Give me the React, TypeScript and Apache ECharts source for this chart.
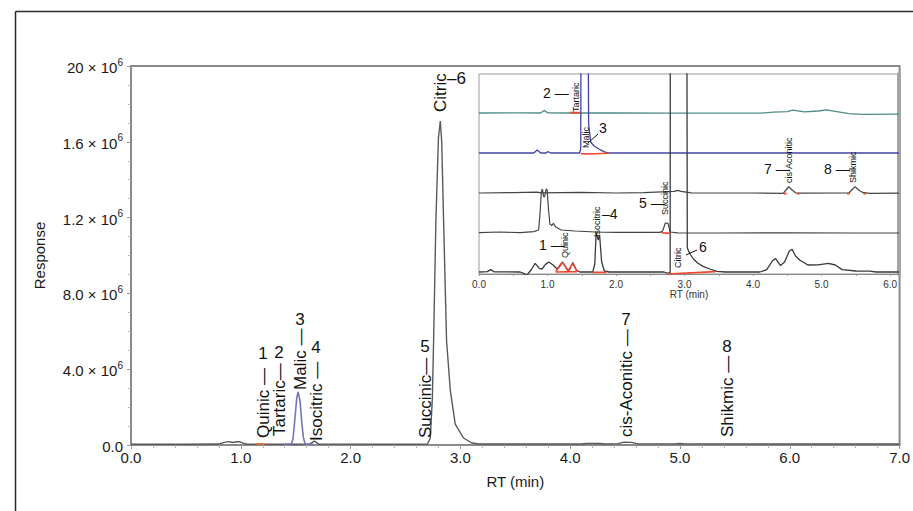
import React, { useEffect, useRef } from 'react';
import * as echarts from 'echarts';

const FONT = '"Liberation Sans", Arial, Helvetica, sans-serif';

// ---------- main chromatogram ----------
const yTickValues = [0, 4, 8, 12, 16, 20];
const yTickBase = ['0.0', '4.0 × 10', '8.0 × 10', '1.2 × 10', '1.6 × 10', '20 × 10'];
const yTickExp = ['', '6', '6', '6', '6', '6'];

const mainRT = [0, 0.5, 0.8, 0.85, 0.89, 0.93, 0.96, 0.99, 1.02, 1.06, 1.5, 1.63, 1.67, 1.71, 2.6, 2.7, 2.726, 2.745, 2.756, 2.777, 2.8, 2.817, 2.83, 2.847, 2.874, 2.908, 2.953, 3.028, 3.1, 3.164, 4.1, 4.15, 4.27, 4.32, 4.44, 4.49, 4.56, 4.62, 4.95, 5.0, 5.05, 7.0];
const mainResp = [0.04, 0.04, 0.05, 0.14, 0.18, 0.13, 0.17, 0.18, 0.1, 0.04, 0.04, 0.06, 0.2, 0.05, 0.04, 0.05, 0.37, 2.5, 5.5, 11.85, 16.2, 17.1, 16.0, 11.85, 5.5, 2.9, 1.1, 0.37, 0.12, 0.05, 0.05, 0.08, 0.08, 0.05, 0.07, 0.15, 0.14, 0.06, 0.06, 0.08, 0.06, 0.05];

const malicRT = [1.4, 1.46, 1.475, 1.49, 1.51, 1.522, 1.54, 1.555, 1.57, 1.585, 1.6, 1.66];
const malicResp = [0.04, 0.05, 0.3, 1.2, 2.5, 2.8, 2.3, 1.2, 0.4, 0.08, 0.04, 0.04];

const mainMarkRT = [1.14, 1.22];
const mainMarkResp = [0.05, 0.05];

// ---------- inset (stacked traces, offset units 0-100) ----------
const tealRT = [0, 0.6, 0.9, 0.95, 1.0, 1.3, 2.0, 2.8, 3.5, 4.1, 4.3, 4.5, 4.58, 4.75, 4.95, 5.07, 5.2, 5.4, 5.6, 6.13];
const tealY = [80.5, 80.6, 80.5, 81.8, 80.6, 80.5, 80.5, 80.4, 80.4, 80.4, 80.9, 81.2, 81.9, 81.1, 81.5, 82.1, 81.3, 80.2, 79.8, 79.9];

const blueRT = [0, 0.8, 0.85, 0.9, 0.98, 1.0, 1.05, 1.47, 1.485, 1.49, 1.59, 1.6, 1.63, 1.68, 1.75, 1.82, 1.89, 2.5, 3.5, 6.13];
const blueY = [60.5, 60.5, 62, 60.5, 60.5, 61.2, 60.5, 60.5, 63, 140, 140, 75, 66, 64, 62.5, 61.2, 60.5, 60.5, 60.5, 60.5];

const traceCRT = [0, 0.5, 0.85, 0.9, 1.5, 2.0, 2.4, 2.85, 2.9, 2.95, 3.1, 4.0, 4.44, 4.48, 4.52, 4.57, 4.62, 4.7, 5.4, 5.44, 5.49, 5.54, 5.6, 5.7, 6.13];
const traceCY = [40.5, 40.7, 40.9, 40.6, 40.8, 40.5, 40.7, 41.3, 41.8, 41.3, 40.6, 40.5, 40.3, 42, 43.7, 42, 40.6, 40.4, 40.5, 42, 43.7, 42, 40.8, 40.3, 40.4];

const traceDRT = [0, 0.3, 0.6, 0.8, 0.87, 0.89, 0.91, 0.925, 0.945, 0.96, 0.98, 0.995, 1.015, 1.035, 1.06, 1.085, 1.12, 1.2, 1.4, 1.7, 2.0, 2.64, 2.68, 2.72, 2.76, 2.79, 2.9, 3.5, 4.5, 5.5, 6.13];
const traceDY = [20.7, 21, 20.7, 21.2, 22, 30, 41, 42.5, 38.5, 39, 42.5, 42, 32, 25, 24.2, 25.3, 23.5, 22, 21.5, 21, 20.8, 20.8, 21.5, 25.5, 25.3, 21, 20.6, 20.5, 20.6, 20.5, 20.5];

const traceERT = [0, 0.12, 0.17, 0.22, 0.6, 0.66, 0.7, 0.76, 0.82, 0.88, 0.92, 0.97, 1.02, 1.08, 1.14, 1.22, 1.29, 1.32, 1.37, 1.42, 1.47, 1.66, 1.69, 1.71, 1.74, 1.76, 1.79, 1.83, 1.9, 2.7, 2.76, 2.79, 2.795, 3.025, 3.04, 3.08, 3.13, 3.19, 3.27, 3.37, 3.47, 3.6, 4.1, 4.2, 4.28, 4.33, 4.4, 4.46, 4.53, 4.57, 4.62, 4.68, 4.8, 4.95, 5.1, 5.2, 5.3, 5.5, 5.7, 5.8, 6.13];
const traceEY = [1, 1.2, 2.2, 1.1, 1, 0.2, -0.5, 2, 5.3, 2.8, 2.5, 4.8, 6, 4.5, 2.5, 6, 2.2, 2, 5.7, 2, 1, 1, 5, 20.7, 17, 19.5, 6, 1.5, 1, 1, 0.3, 0.8, 300, 300, 13, 10, 7.5, 5.5, 3.8, 2.5, 1.3, 1, 1, 2.2, 6.5, 7.7, 4.2, 6, 11.5, 12.3, 9, 7, 4.5, 4.6, 5.3, 4.5, 2.2, 1.5, 1.4, 1.0, 1.0];

// red integration marks in the inset: [rt[], y[]]
const insetMarks: [number[], number[]][] = [
  [[1.33, 1.47], [80.7, 80.7]],
  [[1.49, 1.6, 1.89], [60.2, 60.0, 60.4]],
  [[4.45, 4.49], [40.2, 40.2]],
  [[4.64, 4.68], [40.2, 40.2]],
  [[5.37, 5.41], [40.2, 40.2]],
  [[5.61, 5.65], [40.2, 40.2]],
  [[2.66, 2.79], [20.6, 20.3]],
  [[1.66, 1.86], [0.8, 0.8]],
  [[1.12, 1.22, 1.3, 1.37, 1.43, 1.12], [1.2, 5.8, 1.5, 5.3, 1.2, 1.0]],
  [[2.74, 3.45], [0.0, 1.2]],
];

const pairs = (xs: number[], ys: number[]) => xs.map((x, i) => [x, ys[i]]);

const lineSeries = (xs: number[], ys: number[], color: string, width: number, axis: number, z = 3) => ({
  type: 'line',
  data: pairs(xs, ys),
  xAxisIndex: axis,
  yAxisIndex: axis,
  symbol: 'none',
  showSymbol: false,
  silent: true,
  clip: true,
  lineStyle: { color, width },
  z,
});

// ---------- annotation helpers ----------
const vText = (text: string, x: number, bottom: number, size: number) => ({
  type: 'text',
  x,
  y: bottom,
  rotation: Math.PI / 2,
  style: { text, fontSize: size, fontFamily: FONT, fill: '#111', align: 'left', verticalAlign: 'middle' },
  z: 10,
});
const hText = (text: string, x: number, y: number, size: number, align = 'center') => ({
  type: 'text',
  x,
  y,
  style: { text, fontSize: size, fontFamily: FONT, fill: '#111', align, verticalAlign: 'middle' },
  z: 10,
});
const seg = (x1: number, y1: number, x2: number, y2: number, color = '#111', w = 1) => ({
  type: 'line',
  shape: { x1, y1, x2, y2 },
  style: { stroke: color, lineWidth: w },
  z: 10,
});

export default function App() {
  const ref = useRef<HTMLDivElement>(null);

  useEffect(() => {
    if (!ref.current) return;
    const chart = echarts.init(ref.current, undefined, { renderer: 'svg' });

    const series: any[] = [
      lineSeries(mainRT, mainResp, '#5a5a5a', 1.4, 0),
      lineSeries(malicRT, malicResp, '#7474bd', 1.6, 0, 4),
      lineSeries(mainMarkRT, mainMarkResp, '#e8703a', 1.5, 0, 4),
      lineSeries(tealRT, tealY, '#4f8c86', 1.3, 1),
      lineSeries(blueRT, blueY, '#4343a0', 1.3, 1),
      lineSeries(traceCRT, traceCY, '#444', 1.2, 1),
      lineSeries(traceDRT, traceDY, '#444', 1.2, 1),
      lineSeries(traceERT, traceEY, '#3a3a3a', 1.3, 1),
      ...insetMarks.map(([xs, ys]) => lineSeries(xs, ys, '#f0452f', 1.6, 1, 5)),
    ];

    const graphic: any[] = [
      seg(15.5, 11.5, 913, 11.5, '#2a2a2a', 1.5),
      seg(15.5, 11.5, 15.5, 511, '#2a2a2a', 1.5),
      // main annotations
      vText('Quinic —', 263, 438, 17),
      hText('1', 263, 353, 17),
      vText('Tartaric—', 279, 436, 17),
      hText('2', 279, 352, 17),
      vText('Malic —', 300, 390, 17),
      hText('3', 300, 319, 17),
      vText('Isocitric —', 316, 441, 17),
      hText('4', 316, 347, 17),
      vText('Succinic—', 425, 438, 17),
      hText('5', 425, 346, 17),
      vText('Citric', 440, 112, 17),
      hText('–6', 447, 78, 17, 'left'),
      vText('cis-Aconitic —', 626, 437, 17),
      hText('7', 626, 319, 17),
      vText('Shikmic —', 727, 437, 17),
      hText('8', 727, 346, 17),
      // inset annotations
      vText('Tartaric', 576, 112, 9),
      vText('Malic', 586, 148, 9),
      vText('cis-Aconitic', 789, 183, 9),
      vText('Shikmic', 853, 183, 9),
      vText('Succinic', 665, 215, 9),
      vText('Isocitric', 597, 237, 9),
      vText('Quinic', 565, 258, 9),
      vText('Citric', 678, 268, 9),
      hText('2 —', 543, 93, 14, 'left'),
      hText('3', 599, 128, 14, 'left'),
      hText('7 —', 764, 169, 14, 'left'),
      hText('8 —', 824, 169, 14, 'left'),
      hText('5 —', 639, 203, 14, 'left'),
      hText('–4', 602, 214, 14, 'left'),
      hText('1 —', 539, 245, 14, 'left'),
      hText('6', 699, 247, 14, 'left'),
      seg(588, 143, 598, 134),
      seg(686, 255, 697, 250),
    ];

    chart.setOption({
      animation: false,
      backgroundColor: '#fff',
      textStyle: { fontFamily: FONT },
      grid: [
        { left: 131, top: 66, width: 772, height: 379, show: true, borderColor: '#8a8a8a', borderWidth: 2, backgroundColor: 'transparent' },
        { left: 479, top: 74, width: 420, height: 200, show: true, borderColor: '#9a9a9a', borderWidth: 1, backgroundColor: '#fff' },
      ],
      xAxis: [
        {
          type: 'value', gridIndex: 0, min: 0, max: 7, interval: 1,
          axisLine: { show: true, onZero: false, lineStyle: { color: '#8a8a8a', width: 2 } },
          axisTick: { show: true, length: 4, lineStyle: { color: '#9a9a9a' } },
          minorTick: { show: true, splitNumber: 5, length: 3, lineStyle: { color: '#b4b4b4' } },
          splitLine: { show: false },
          axisLabel: { formatter: (v: number) => v.toFixed(1), fontSize: 15, color: '#1a1a1a', fontFamily: FONT, margin: 5 },
          name: 'RT (min)', nameLocation: 'middle', nameGap: 29,
          nameTextStyle: { fontSize: 15, color: '#1a1a1a', fontFamily: FONT },
        },
        {
          type: 'value', gridIndex: 1, min: 0, max: 6.13, interval: 1,
          axisLine: { show: true, onZero: false, lineStyle: { color: '#8a8a8a', width: 1 } },
          axisTick: { show: true, length: 2, lineStyle: { color: '#999' } },
          minorTick: { show: true, splitNumber: 2, length: 2, lineStyle: { color: '#999' } },
          splitLine: { show: false },
          axisLabel: {
            formatter: (v: number) => (Math.abs(v - Math.round(v)) < 1e-6 ? v.toFixed(1) : ''),
            fontSize: 10, color: '#333', fontFamily: FONT, margin: 5,
          },
          name: 'RT (min)', nameLocation: 'middle', nameGap: 15,
          nameTextStyle: { fontSize: 10, color: '#333', fontFamily: FONT },
        },
      ],
      yAxis: [
        {
          type: 'value', gridIndex: 0, min: 0, max: 20, interval: 4,
          axisLine: { show: true, onZero: false, lineStyle: { color: '#8a8a8a', width: 2 } },
          axisTick: { show: true, length: 4, lineStyle: { color: '#9a9a9a' } },
          minorTick: { show: true, splitNumber: 4, length: 3, lineStyle: { color: '#b4b4b4' } },
          splitLine: { show: false },
          axisLabel: {
            formatter: (v: number) => {
              const i = yTickValues.indexOf(v);
              if (i < 0) return '';
              return yTickExp[i] ? `{a|${yTickBase[i]}}{s|${yTickExp[i]}}` : `{a|${yTickBase[i]}}`;
            },
            color: '#1a1a1a', fontFamily: FONT, margin: 8,
            rich: {
              a: { fontSize: 15, lineHeight: 18, fontFamily: FONT, color: '#1a1a1a', verticalAlign: 'bottom' },
              s: { fontSize: 10, lineHeight: 11, fontFamily: FONT, color: '#1a1a1a', verticalAlign: 'top' },
            },
          },
          name: 'Response', nameLocation: 'middle', nameGap: 84, nameRotate: 90,
          nameTextStyle: { fontSize: 15, color: '#1a1a1a', fontFamily: FONT },
        },
        {
          type: 'value', gridIndex: 1, min: 0, max: 100, position: 'right',
          axisLine: { show: true, onZero: false, lineStyle: { color: '#a4a4a4', width: 4 } },
          axisTick: { show: false },
          axisLabel: { show: false },
          splitLine: { show: false },
        },
      ],
      series,
      graphic,
    });

    return () => chart.dispose();
  }, []);

  return (
    <div
      ref={ref}
      style={{ position: 'absolute', left: 0, top: 0, width: 913, height: 511, background: '#fff' }}
    />
  );
}
